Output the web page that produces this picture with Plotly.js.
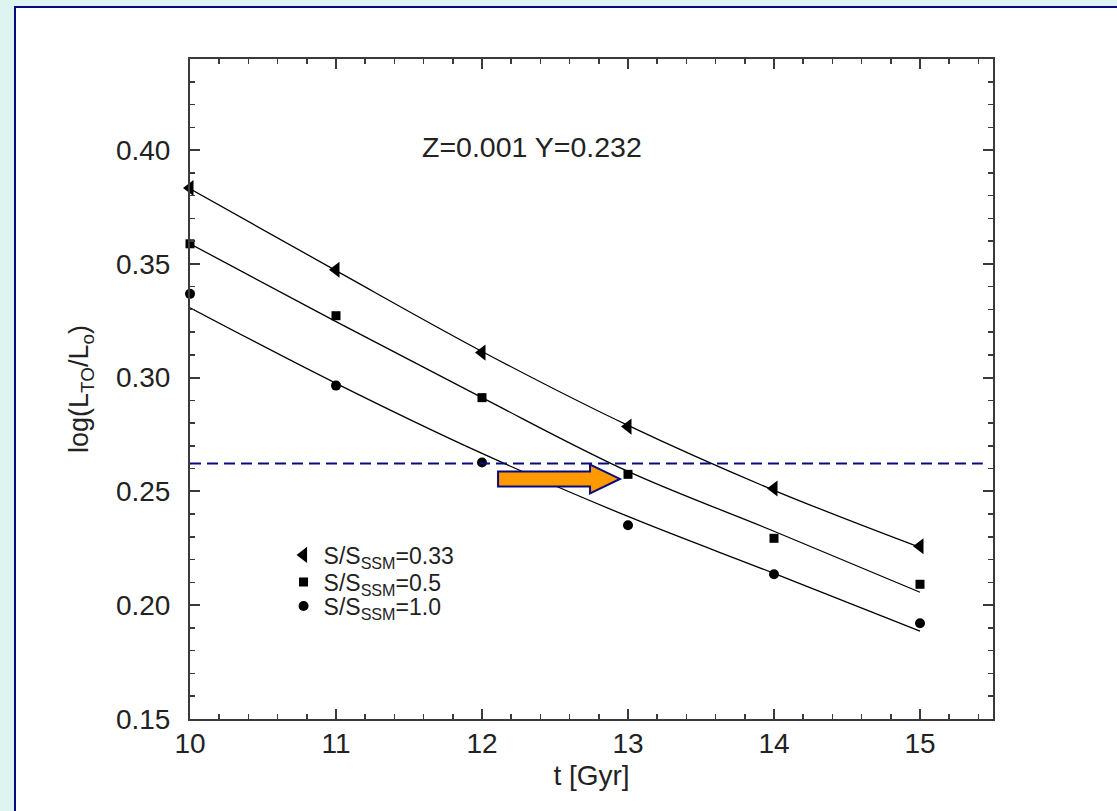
<!DOCTYPE html>
<html>
<head>
<meta charset="utf-8">
<script src="https://cdn.plot.ly/plotly-3.0.1.min.js"></script>
<style>
  html, body { margin: 0; padding: 0; background: #DDF4F1; width: 1117px; height: 811px; overflow: hidden; }
  #panel { position: absolute; left: 14px; top: 6px; width: 1110px; height: 810px; background: #ffffff;
           border-left: 2px solid #0A0A7A; border-top: 2px solid #0A0A7A; }
  #chart { position: absolute; left: 0; top: 0; width: 1117px; height: 811px; }
</style>
</head>
<body>
<div id="panel"></div>
<div id="chart"></div>
<script>
// Ages [Gyr]
const ages = [10, 11, 12, 13, 14, 15];

// Model points, log(L_TO/L_o)
const pts033 = [0.3833, 0.3474, 0.3110, 0.2785, 0.2513, 0.2259];
const pts05  = [0.3588, 0.3272, 0.2912, 0.2575, 0.2294, 0.2092];
const pts10  = [0.3368, 0.2965, 0.2627, 0.2351, 0.2136, 0.1921];

// Fitted curves, read at the same ages
const fit033 = [0.3830, 0.3470, 0.3115, 0.2790, 0.2505, 0.2254];
const fit05  = [0.3588, 0.3246, 0.2912, 0.2588, 0.2325, 0.2057];
const fit10  = [0.3307, 0.2975, 0.2667, 0.2390, 0.2140, 0.1886];

const seriesNames = ['S/S<sub>SSM</sub>=0.33', 'S/S<sub>SSM</sub>=0.5', 'S/S<sub>SSM</sub>=1.0'];
const refLevel = 0.2623;
const refEndAge = 15.43;
const labelText = 'Z=0.001 Y=0.232';

const FONT = 'Liberation Sans, Arial, sans-serif';

function fitTrace(y) {
  return { x: ages, y: y, mode: 'lines', line: { color: '#000', width: 1.3, shape: 'spline' },
           showlegend: false, hoverinfo: 'skip' };
}
function ptTrace(y, name, symbol, size, legendId) {
  return { x: ages, y: y, mode: 'markers', name: name, legend: legendId,
           marker: { symbol: symbol, size: size, color: '#000' }, cliponaxis: false };
}

const traces = [
  fitTrace(fit033), fitTrace(fit05), fitTrace(fit10),
  ptTrace(pts033, seriesNames[0], 'triangle-left', 14, 'legend'),
  ptTrace(pts05, seriesNames[1], 'square', 9, 'legend2'),
  ptTrace(pts10, seriesNames[2], 'circle', 10, 'legend3')
];

// arrow outline (data coordinates)
const arrowPath = 'M12.11,0.2522 L12.74,0.2522 L12.74,0.2491 L12.945,0.2555 L12.74,0.2618 L12.74,0.2588 L12.11,0.2588 Z';

const axisCommon = {
  showline: true, linecolor: '#3a3a3a', linewidth: 2,
  ticks: 'inside', ticklen: 10, tickwidth: 2, tickcolor: '#3a3a3a',
  mirror: 'ticks', showgrid: false, zeroline: false,
  tickfont: { family: FONT, size: 28, color: '#222' }
};

function legendAt(y) {
  return {
    x: 0.1165, y: y, xanchor: 'left', yanchor: 'middle',
    bgcolor: 'rgba(0,0,0,0)', font: { family: FONT, size: 23, color: '#222' },
    itemwidth: 30, borderwidth: 0
  };
}

const layout = {
  width: 1117, height: 811,
  paper_bgcolor: 'rgba(0,0,0,0)', plot_bgcolor: 'rgba(0,0,0,0)',
  margin: { l: 190, r: 124, t: 59, b: 92 },
  font: { family: FONT, color: '#222' },
  xaxis: Object.assign({}, axisCommon, {
    range: [10, 15.5], dtick: 1, tick0: 10, ticklabelstandoff: -2,
    minor: { dtick: 0.2, ticklen: 5, tickwidth: 1.5, tickcolor: '#3a3a3a', ticks: 'inside' },
    title: { text: 't [Gyr]', font: { family: FONT, size: 28, color: '#222' }, standoff: 8 }
  }),
  yaxis: Object.assign({}, axisCommon, {
    range: [0.15, 0.44], dtick: 0.05, tick0: 0.15, tickformat: '.2f', ticklabelstandoff: 12,
    minor: { dtick: 0.01, ticklen: 5, tickwidth: 1.5, tickcolor: '#3a3a3a', ticks: 'inside' },
    title: { text: 'log(L<sub>TO</sub>/L<sub>o</sub>)', font: { family: FONT, size: 27, color: '#222' }, standoff: 19 }
  }),
  legend: legendAt(0.2485),
  legend2: legendAt(0.2076),
  legend3: legendAt(0.1712),
  showlegend: true,
  shapes: [
    { type: 'line', xref: 'x', yref: 'y', x0: ages[0], x1: refEndAge, y0: refLevel, y1: refLevel,
      line: { color: '#0A0A7A', width: 2, dash: '11px,6px' } },
    { type: 'path', xref: 'x', yref: 'y', path: arrowPath, fillcolor: '#FF9900',
      line: { color: '#0A0A7A', width: 2 } }
  ],
  annotations: [
    { x: 12.34, y: 0.4013, xref: 'x', yref: 'y', text: labelText, showarrow: false,
      font: { family: FONT, size: 28.5, color: '#222' } }
  ]
};

Plotly.newPlot('chart', traces, layout, { displayModeBar: false, staticPlot: true });
</script>
</body>
</html>
